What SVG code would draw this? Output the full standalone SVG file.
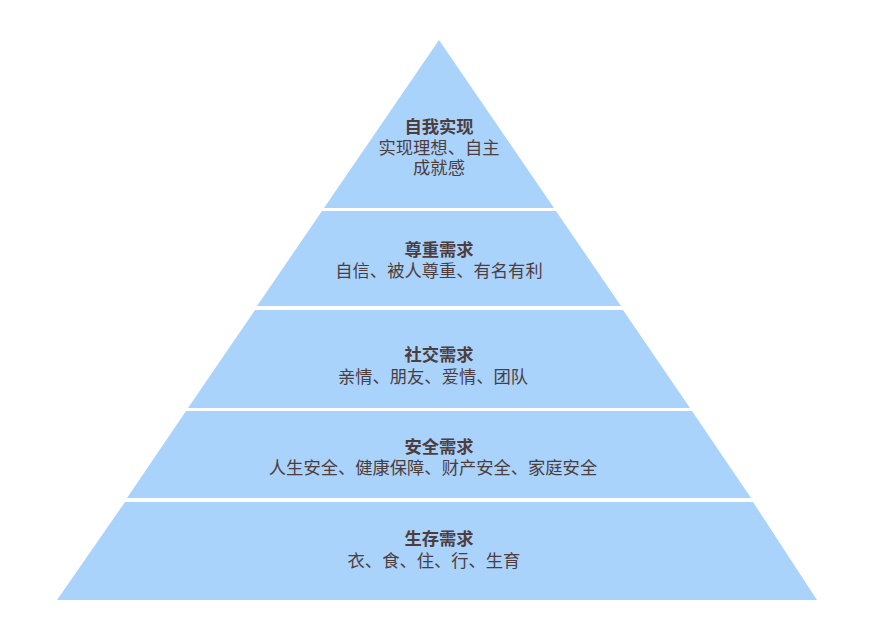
<svg xmlns="http://www.w3.org/2000/svg" width="879" height="627" viewBox="0 0 879 627">
<style>
.b{fill:#aad3fc}
.t{font-family:"Liberation Sans","Noto Sans CJK SC",sans-serif;font-size:17.3px;fill:#4d3d3d;text-anchor:middle}
.h{font-weight:bold}
</style>
<rect width="879" height="627" fill="#fff"/>
<g id="l1"><polygon class="b" points="439,40 554,208 324,208"/>
<text class="t h" x="439" y="133">自我实现</text><text class="t" x="439" y="154">实现理想、自主</text><text class="t" x="439" y="174">成就感</text></g>
<g id="l2"><polygon class="b" points="322,211 556,211 621,306 257,306"/>
<text class="t h" x="439" y="256">尊重需求</text><text class="t" x="439" y="277">自信、被人尊重、有名有利</text></g>
<g id="l3"><polygon class="b" points="255,310 623,310 690,408 188,408"/>
<text class="t h" x="439" y="361">社交需求</text><text class="t" x="433" y="383">亲情、朋友、爱情、团队</text></g>
<g id="l4"><polygon class="b" points="186,411 692,411 751,498 127,498"/>
<text class="t h" x="439" y="453">安全需求</text><text class="t" x="433" y="474">人生安全、健康保障、财产安全、家庭安全</text></g>
<g id="l5"><polygon class="b" points="125,502 753,502 817,600 57,600"/>
<text class="t h" x="439" y="545">生存需求</text><text class="t" x="434" y="567">衣、食、住、行、生育</text></g>
<g id="connectors"></g>
</svg>
